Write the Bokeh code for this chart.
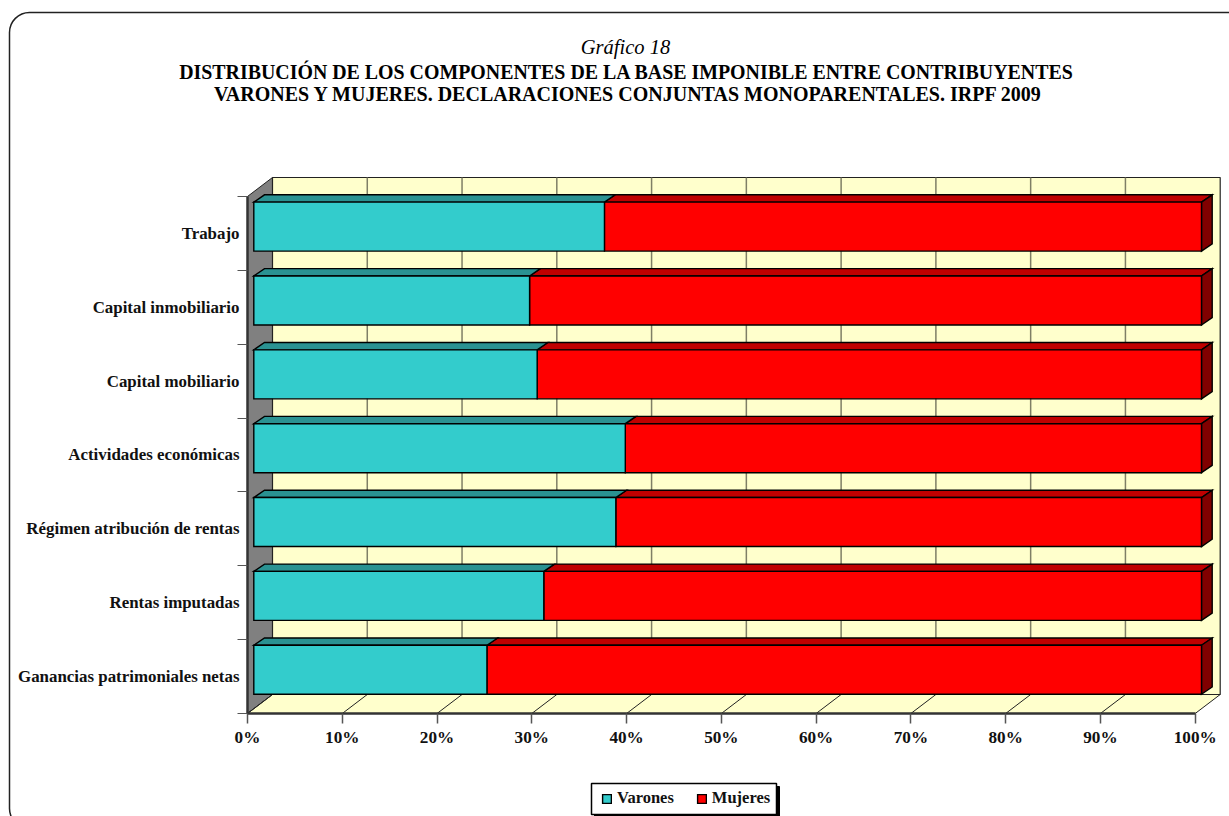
from bokeh.plotting import figure
from bokeh.embed import file_html
from bokeh.resources import INLINE
from bokeh.models import (LinearAxis, FixedTicker, Label, BoxAnnotation, Legend, LegendItem,
                          Range1d)

categories = ["Ganancias patrimoniales netas", "Rentas imputadas", "Régimen atribución de rentas",
              "Actividades económicas", "Capital mobiliario", "Capital inmobiliario", "Trabajo"]
varones = [24.6, 30.6, 38.2, 39.2, 29.9, 29.1, 37.0]
mujeres = [100 - v for v in varones]
x_ticks = [0, 10, 20, 30, 40, 50, 60, 70, 80, 90, 100]
x_tick_labels = ["0%", "10%", "20%", "30%", "40%", "50%", "60%", "70%", "80%", "90%", "100%"]
series_names = ["Varones", "Mujeres"]
title_lines = ["DISTRIBUCIÓN DE LOS COMPONENTES DE LA BASE IMPONIBLE ENTRE CONTRIBUYENTES",
               "VARONES Y MUJERES. DECLARACIONES CONJUNTAS MONOPARENTALES. IRPF 2009"]
subtitle = "Gráfico 18"

W, H = 1229, 816
PX_X = 9.477   # px per percent
PX_Y = 73.86   # px per category
X0, Y0 = 247, 713   # canvas px of the origin
FONT = "Liberation Serif"

def dx(px): return px / PX_X
def dy(px): return px / PX_Y

p = figure(width=W, height=H, output_backend="svg", toolbar_location=None,
           x_range=Range1d(-X0 / PX_X, (W - X0) / PX_X),
           y_range=Range1d(-(H - Y0) / PX_Y, Y0 / PX_Y),
           x_axis_location=None, y_axis_location=None,
           min_border=0, outline_line_color=None, background_fill_color="white")
p.xgrid.visible = False
p.ygrid.visible = False

n = len(categories)
WALL_DX, WALL_DY = dx(25), dy(19)

# outer rounded frame
p.add_layout(BoxAnnotation(left=9, right=W + 40, top=H - 12, bottom=-12,
                           left_units="screen", right_units="screen", top_units="screen", bottom_units="screen",
                           fill_color=None, line_color="#222222", line_alpha=1, line_width=1.5,
                           border_radius=20, level="underlay"))

# 3-D walls
p.patches([[0, WALL_DX, WALL_DX, 0]], [[0, WALL_DY, n + WALL_DY, n]],
          fill_color="#808080", line_color="#222222", line_width=1)
p.patches([[WALL_DX, 100 + WALL_DX, 100 + WALL_DX, WALL_DX]],
          [[WALL_DY, WALL_DY, n + WALL_DY, n + WALL_DY]],
          fill_color="#FFFFCC", line_color="#222222", line_width=1.2)
p.patches([[0, 100, 100 + WALL_DX, WALL_DX]], [[0, 0, WALL_DY, WALL_DY]],
          fill_color="#FFFFCC", line_color="#222222", line_width=1)
p.segment(x0=[t + WALL_DX for t in x_ticks[1:-1]], y0=[WALL_DY] * 9,
          x1=[t + WALL_DX for t in x_ticks[1:-1]], y1=[n + WALL_DY] * 9,
          line_color="#7F7F66", line_width=1.5)
p.segment(x0=x_ticks[:-1], y0=[0] * 10, x1=[t + WALL_DX for t in x_ticks[:-1]], y1=[WALL_DY] * 10,
          line_color="#222222", line_width=1)

# bars
BAR_X, BAR_Y = dx(6.3), dy(6.8)       # offset of the bars' front face
HALF = dy(24.5)
D_X, D_Y = dx(10.7), dy(7.3)          # depth of a bar
centers = [i + 0.5 + BAR_Y for i in range(n)]
lefts = [BAR_X] * n
mids = [BAR_X + v for v in varones]
rights = [BAR_X + v + m for v, m in zip(varones, mujeres)]
tops = [c + HALF for c in centers]
bots = [c - HALF for c in centers]

def top_face(a, b):
    return ([[l, r, r + D_X, l + D_X] for l, r in zip(a, b)],
            [[t, t, t + D_Y, t + D_Y] for t in tops])

EDGE = dict(line_color="black", line_width=1.4, line_join="miter")
xs, ys = top_face(mids, rights)
p.patches(xs, ys, fill_color="#C00000", **EDGE)
p.patches([[r, r + D_X, r + D_X, r] for r in rights],
          [[b, b + D_Y, t + D_Y, t] for b, t in zip(bots, tops)], fill_color="#800000", **EDGE)
red = p.quad(left=mids, right=rights, top=tops, bottom=bots, fill_color="#FF0000", **EDGE)
xs, ys = top_face(lefts, mids)
p.patches(xs, ys, fill_color="#2A9292", **EDGE)
teal = p.quad(left=lefts, right=mids, top=tops, bottom=bots, fill_color="#33CCCC", **EDGE)

# axes
xaxis = LinearAxis(ticker=FixedTicker(ticks=x_ticks), fixed_location=0, bounds=(0, 100),
                   major_label_overrides={t: s for t, s in zip(x_ticks, x_tick_labels)},
                   axis_line_color="#333333", axis_line_width=2.5,
                   major_tick_line_color="#555555", major_tick_line_width=1.5,
                   major_tick_in=0, major_tick_out=10, minor_tick_line_color=None,
                   major_label_text_font=FONT, major_label_text_font_style="bold",
                   major_label_text_font_size="17.2px", major_label_text_color="#111111",
                   major_label_standoff=4)
p.add_layout(xaxis, "below")
yaxis = LinearAxis(ticker=FixedTicker(ticks=[i + 0.5 for i in range(n)], minor_ticks=list(range(n + 1))),
                   fixed_location=0, bounds=(0, n),
                   major_label_overrides={i + 0.5: c for i, c in enumerate(categories)},
                   axis_line_color="#333333", axis_line_width=2.5,
                   major_tick_line_color=None, major_tick_in=0, major_tick_out=0,
                   minor_tick_line_color="#555555", minor_tick_line_width=1.2,
                   minor_tick_in=0, minor_tick_out=10,
                   major_label_text_font=FONT, major_label_text_font_style="bold",
                   major_label_text_font_size="16.9px", major_label_text_color="#111111",
                   major_label_standoff=-2)
p.add_layout(yaxis, "left")

# titles
def title(text, sx, sy, size, style):
    p.add_layout(Label(x=sx, y=H - sy, x_units="screen", y_units="screen", text=text,
                       text_font=FONT, text_font_size=size, text_font_style=style,
                       text_align="center", text_baseline="middle", text_color="#000000"))
title(subtitle, 625, 46, "20.5px", "italic")
title(title_lines[0], 626, 71, "19.9px", "bold")
title(title_lines[1], 628, 93, "20px", "bold")

# legend: drop shadow, frame, then entries
LX, LY, LW, LH = 591, 783, 185, 31
BOX = dict(left_units="screen", right_units="screen", top_units="screen", bottom_units="screen")
p.add_layout(BoxAnnotation(left=LX + 3, right=LX + LW + 3, top=H - LY - 3, bottom=H - LY - LH - 3,
                           fill_color="black", fill_alpha=1, line_color="black", line_alpha=1, **BOX))
p.add_layout(BoxAnnotation(left=LX, right=LX + LW, top=H - LY, bottom=H - LY - LH,
                           fill_color="white", fill_alpha=1, line_color="black", line_alpha=1,
                           line_width=1.5, **BOX))
legend = Legend(items=[LegendItem(label=series_names[0], renderers=[teal]),
                       LegendItem(label=series_names[1], renderers=[red])],
                orientation="horizontal", location=(LX + 10, H - LY - LH + 6),
                border_line_color=None, background_fill_alpha=0, label_text_font=FONT,
                label_text_font_style="bold",
                label_text_font_size="16.5px", label_text_color="#111111",
                glyph_width=11, glyph_height=11, spacing=22, padding=6, margin=0,
                label_standoff=5, label_height=13)
p.add_layout(legend)

open("out.html", "w").write(file_html(p, INLINE))
